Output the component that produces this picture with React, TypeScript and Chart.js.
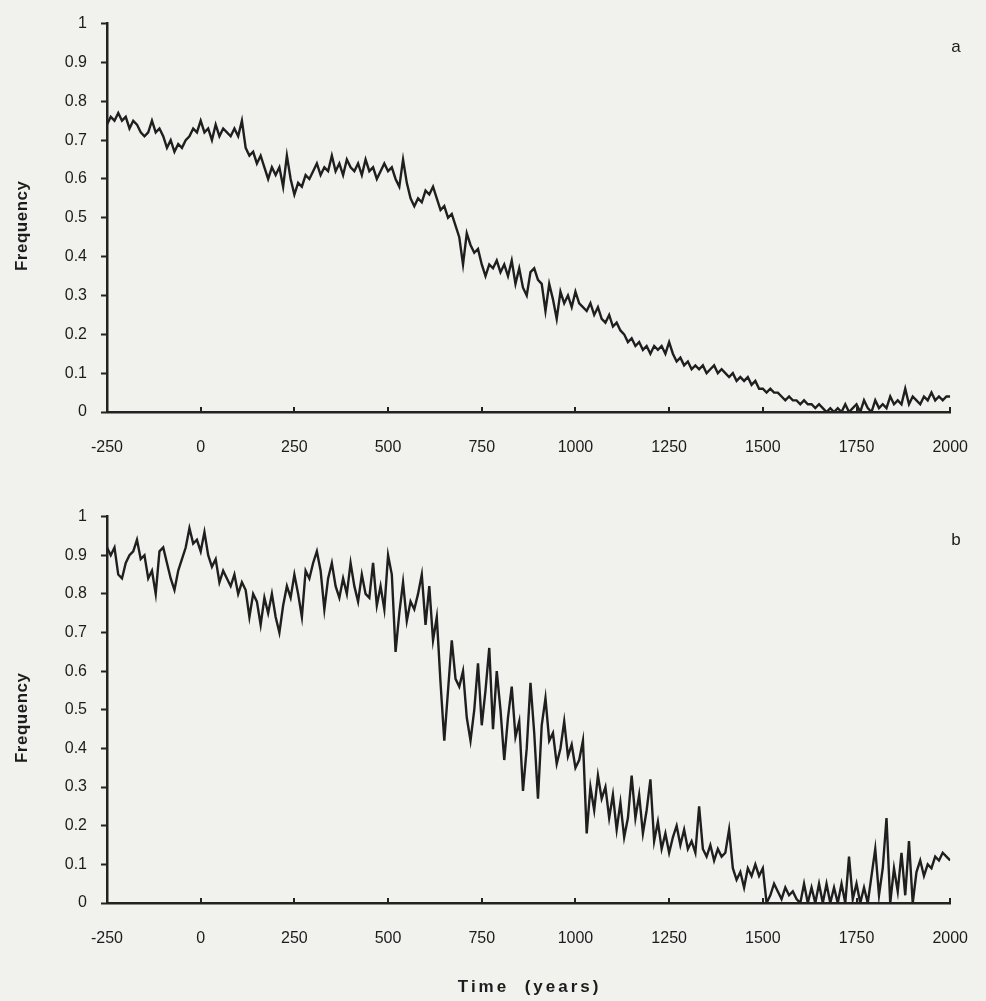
import React, { useEffect, useRef } from "react";
import { Chart, registerables } from "chart.js";

Chart.register(...registerables);

// ---- data -----------------------------------------------------------------
const YEAR_START = -250;
const YEAR_STEP = 10;

const X_TICK_VALUES = [-250, 0, 250, 500, 750, 1000, 1250, 1500, 1750, 2000];
const Y_TICK_VALUES = [0, 0.1, 0.2, 0.3, 0.4, 0.5, 0.6, 0.7, 0.8, 0.9, 1];

const Y_TITLE = "Frequency";
const X_TITLE = "Time  (years)";
const PANEL_LETTERS = ["a", "b"];

// panel a, one value per decade from -250 to 2000
const FREQ_A = [
  0.74, 0.76, 0.75, 0.77, 0.75, 0.76, 0.73, 0.75, 0.74, 0.72,
  0.71, 0.72, 0.75, 0.72, 0.73, 0.71, 0.68, 0.70, 0.67, 0.69,
  0.68, 0.70, 0.71, 0.73, 0.72, 0.75, 0.72, 0.73, 0.70, 0.74,
  0.71, 0.73, 0.72, 0.71, 0.73, 0.71, 0.75, 0.68, 0.66, 0.67,
  0.64, 0.66, 0.63, 0.60, 0.63, 0.61, 0.63, 0.58, 0.66, 0.60,
  0.56, 0.59, 0.58, 0.61, 0.60, 0.62, 0.64, 0.61, 0.63, 0.62,
  0.66, 0.62, 0.64, 0.61, 0.65, 0.63, 0.62, 0.64, 0.61, 0.65,
  0.62, 0.63, 0.60, 0.62, 0.64, 0.62, 0.63, 0.60, 0.58, 0.65,
  0.59, 0.55, 0.53, 0.55, 0.54, 0.57, 0.56, 0.58, 0.55, 0.52,
  0.53, 0.50, 0.51, 0.48, 0.45, 0.38, 0.46, 0.43, 0.41, 0.42,
  0.38, 0.35, 0.38, 0.37, 0.39, 0.36, 0.38, 0.35, 0.39, 0.33,
  0.37, 0.32, 0.30, 0.36, 0.37, 0.34, 0.33, 0.26, 0.33, 0.29,
  0.24, 0.31, 0.28, 0.30, 0.27, 0.31, 0.28, 0.27, 0.26, 0.28,
  0.25, 0.27, 0.24, 0.23, 0.25, 0.22, 0.23, 0.21, 0.20, 0.18,
  0.19, 0.17, 0.18, 0.16, 0.17, 0.15, 0.17, 0.16, 0.17, 0.15,
  0.18, 0.15, 0.13, 0.14, 0.12, 0.13, 0.11, 0.12, 0.11, 0.12,
  0.10, 0.11, 0.12, 0.10, 0.11, 0.10, 0.09, 0.10, 0.08, 0.09,
  0.08, 0.09, 0.07, 0.08, 0.06, 0.06, 0.05, 0.06, 0.05, 0.05,
  0.04, 0.03, 0.04, 0.03, 0.03, 0.02, 0.03, 0.02, 0.02, 0.01,
  0.02, 0.01, 0.00, 0.01, 0.00, 0.01, 0.00, 0.02, 0.00, 0.01,
  0.02, 0.00, 0.03, 0.01, 0.00, 0.03, 0.01, 0.02, 0.01, 0.04,
  0.02, 0.03, 0.02, 0.06, 0.02, 0.04, 0.03, 0.02, 0.04, 0.03,
  0.05, 0.03, 0.04, 0.03, 0.04, 0.04,
];

// panel b, one value per decade from -250 to 2000
const FREQ_B = [
  0.92, 0.90, 0.92, 0.85, 0.84, 0.88, 0.90, 0.91, 0.94, 0.89,
  0.90, 0.84, 0.86, 0.80, 0.91, 0.92, 0.88, 0.84, 0.81, 0.86,
  0.89, 0.92, 0.97, 0.93, 0.94, 0.91, 0.96, 0.90, 0.87, 0.89,
  0.83, 0.86, 0.84, 0.82, 0.85, 0.80, 0.83, 0.81, 0.74, 0.80,
  0.78, 0.72, 0.79, 0.75, 0.80, 0.74, 0.70, 0.77, 0.82, 0.79,
  0.85, 0.80, 0.74, 0.86, 0.84, 0.88, 0.91, 0.86, 0.76, 0.84,
  0.88, 0.82, 0.79, 0.84, 0.80, 0.88, 0.82, 0.78, 0.85, 0.80,
  0.79, 0.88, 0.77, 0.82, 0.76, 0.90, 0.85, 0.65, 0.75, 0.83,
  0.73, 0.78, 0.76, 0.80, 0.85, 0.72, 0.82, 0.68, 0.74, 0.57,
  0.42, 0.55, 0.68, 0.58, 0.56, 0.60, 0.48, 0.42, 0.50, 0.62,
  0.46, 0.55, 0.66, 0.45, 0.60, 0.50, 0.37, 0.48, 0.56, 0.43,
  0.47, 0.29, 0.40, 0.57, 0.44, 0.27, 0.46, 0.53, 0.42, 0.44,
  0.36, 0.40, 0.47, 0.38, 0.41, 0.35, 0.37, 0.42, 0.18, 0.30,
  0.24, 0.33, 0.27, 0.30, 0.22, 0.28, 0.19, 0.26, 0.17, 0.22,
  0.33, 0.22, 0.28, 0.18, 0.24, 0.32, 0.16, 0.21, 0.14, 0.18,
  0.13, 0.17, 0.20, 0.15, 0.19, 0.14, 0.16, 0.13, 0.25, 0.14,
  0.12, 0.15, 0.11, 0.14, 0.12, 0.13, 0.19, 0.09, 0.06, 0.08,
  0.04, 0.09, 0.07, 0.10, 0.07, 0.09, 0.00, 0.02, 0.05, 0.03,
  0.01, 0.04, 0.02, 0.03, 0.01, 0.00, 0.05, 0.00, 0.04, 0.00,
  0.05, 0.00, 0.05, 0.00, 0.04, 0.00, 0.05, 0.00, 0.12, 0.01,
  0.05, 0.00, 0.04, 0.00, 0.07, 0.14, 0.02, 0.09, 0.22, 0.00,
  0.09, 0.03, 0.13, 0.02, 0.16, 0.00, 0.08, 0.11, 0.07, 0.10,
  0.09, 0.12, 0.11, 0.13, 0.12, 0.11,
];

const YEARS = FREQ_A.map((_, i) => YEAR_START + i * YEAR_STEP);

// ---- styling ---------------------------------------------------------------
const FONT = '"Liberation Sans", Arial, sans-serif';
const BG = "#f1f1ee";
const AXIS = "#222222";
const LINE = "#1f1f1f";
const TEXT = "#1c1c1c";

const decorPlugin = {
  id: "decor",
  afterDraw(chart: any, _args: any, opts: any) {
    const { ctx, chartArea, scales } = chart;
    ctx.save();
    // inward x tick marks
    ctx.strokeStyle = AXIS;
    ctx.lineWidth = 2;
    for (const t of scales.x.ticks) {
      if (t.value === scales.x.min) continue;
      const px = Math.round(scales.x.getPixelForValue(t.value));
      ctx.beginPath();
      ctx.moveTo(px, chartArea.bottom);
      ctx.lineTo(px, chartArea.bottom - 5);
      ctx.stroke();
    }
    // panel letter
    ctx.fillStyle = TEXT;
    ctx.font = `17px ${FONT}`;
    ctx.textAlign = "center";
    ctx.textBaseline = "alphabetic";
    ctx.fillText(opts.letter, 956, 52);
    // y title
    ctx.save();
    ctx.translate(22, (chartArea.top + chartArea.bottom) / 2 + 8);
    ctx.rotate(-Math.PI / 2);
    ctx.font = `bold 17px ${FONT}`;
    (ctx as any).letterSpacing = "0.5px";
    ctx.textAlign = "center";
    ctx.textBaseline = "middle";
    ctx.fillText(Y_TITLE, 0, 0);
    ctx.restore();
    // x title
    if (opts.xTitle) {
      ctx.save();
      ctx.font = `bold 17px ${FONT}`;
      (ctx as any).letterSpacing = "3px";
      ctx.textAlign = "center";
      ctx.textBaseline = "alphabetic";
      ctx.fillText(opts.xTitle, (chartArea.left + chartArea.right) / 2 + 1, 499);
      ctx.restore();
    }
    ctx.restore();
  },
};

type PanelProps = {
  values: number[];
  letter: string;
  top: number;
  height: number;
  axisHeight: number;
  xTitle?: string;
};

function Panel({ values, letter, top, height, axisHeight, xTitle }: PanelProps) {
  const ref = useRef<HTMLCanvasElement>(null);
  useEffect(() => {
    if (!ref.current) return;
    const tickFont = { family: FONT, size: 16 };
    const chart = new Chart(ref.current, {
      type: "line",
      data: {
        labels: YEARS,
        datasets: [
          {
            data: values,
            borderColor: LINE,
            borderWidth: 2.4,
            pointRadius: 0,
            tension: 0,
            fill: false,
          },
        ],
      },
      options: {
        responsive: false,
        animation: false,
        devicePixelRatio: 1,
        layout: { padding: { top: 16, right: 20, left: 0, bottom: 0 } },
        plugins: {
          legend: { display: false },
          tooltip: { enabled: false },
          decor: { letter, xTitle },
        } as any,
        scales: {
          x: {
            type: "linear",
            min: -250,
            max: 2000,
            afterBuildTicks: (s: any) => {
              s.ticks = X_TICK_VALUES.map((v) => ({ value: v }));
            },
            afterFit: (s: any) => {
              s.height = axisHeight;
            },
            grid: { display: false },
            border: { display: true, color: AXIS, width: 2.5 },
            ticks: {
              padding: 18,
              color: TEXT,
              font: tickFont,
              maxRotation: 0,
              autoSkip: false,
              callback: (v: any) => String(v),
            },
          },
          y: {
            type: "linear",
            min: 0,
            max: 1,
            afterBuildTicks: (s: any) => {
              s.ticks = Y_TICK_VALUES.map((v) => ({ value: v }));
            },
            afterFit: (s: any) => {
              s.width = 107;
            },
            grid: {
              display: true,
              drawOnChartArea: false,
              drawTicks: true,
              tickLength: 6,
              tickColor: AXIS,
              tickWidth: 2,
            },
            border: { display: true, color: AXIS, width: 2.5 },
            ticks: {
              padding: 14,
              color: TEXT,
              font: tickFont,
              callback: (v: any) => String(Math.round(Number(v) * 10) / 10),
            },
          },
        },
      } as any,
      plugins: [decorPlugin as any],
    });
    return () => chart.destroy();
  }, [values, letter, axisHeight, xTitle]);
  return (
    <canvas
      ref={ref}
      width={986}
      height={height}
      style={{ position: "absolute", left: 0, top, width: 986, height }}
    />
  );
}

export default function App() {
  return (
    <div
      style={{
        position: "absolute",
        left: 0,
        top: 0,
        width: 986,
        height: 1001,
        background: BG,
        overflow: "hidden",
      }}
    >
      <Panel values={FREQ_A} letter={PANEL_LETTERS[0]} top={0} height={460} axisHeight={48} />
      <Panel
        values={FREQ_B}
        letter={PANEL_LETTERS[1]}
        top={493}
        height={508}
        axisHeight={98}
        xTitle={X_TITLE}
      />
    </div>
  );
}
